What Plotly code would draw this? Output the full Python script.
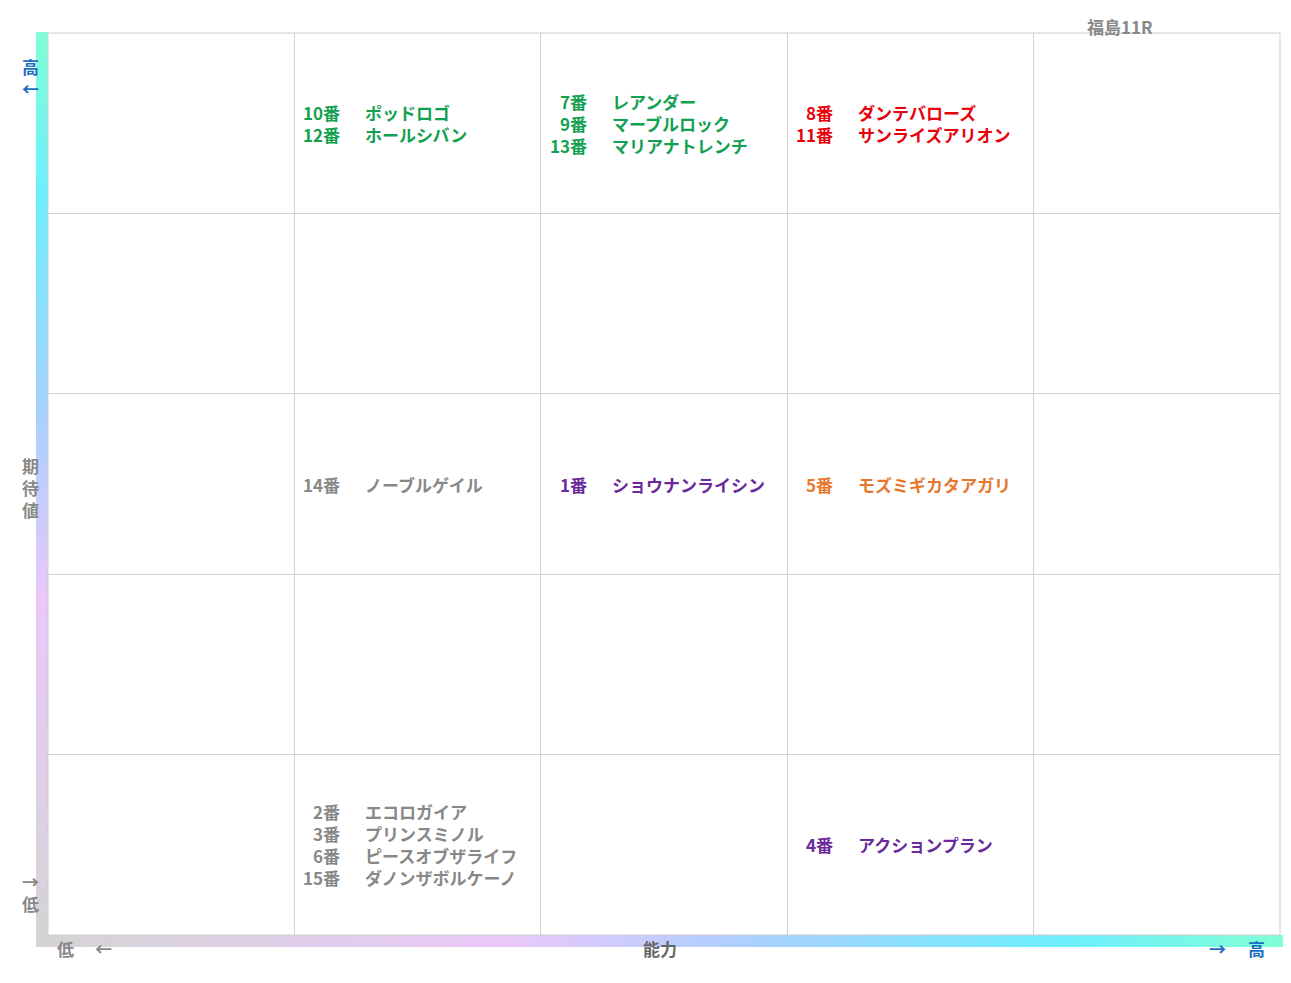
import plotly.graph_objects as go

# the page body adds an 8px margin, so the figure is sized to the visible area
W, H = 1283, 975
L, R, T, B = 40, 11, 25, 48
OFF = 8

# cell contents: column (0-4 left->right), row (0-4 bottom->top)
cell_cols = [1, 2, 3, 1, 2, 3, 1, 3]
cell_rows = [4, 4, 4, 2, 2, 2, 0, 0]
cell_colors = ['#12a150', '#12a150', '#e8000b', '#888888', '#6a2a9a', '#e8772e', '#888888', '#6a2a9a']
cell_nums = [
    ['10番', '12番'],
    ['7番', '9番', '13番'],
    ['8番', '11番'],
    ['14番'],
    ['1番'],
    ['5番'],
    ['2番', '3番', '6番', '15番'],
    ['4番'],
]
cell_names = [
    ['ポッドロゴ', 'ホールシバン'],
    ['レアンダー', 'マーブルロック', 'マリアナトレンチ'],
    ['ダンテバローズ', 'サンライズアリオン'],
    ['ノーブルゲイル'],
    ['ショウナンライシン'],
    ['モズミギカタアガリ'],
    ['エコロガイア', 'プリンスミノル', 'ピースオブザライフ', 'ダノンザボルケーノ'],
    ['アクションプラン'],
]
grad_stops = [(0, (212, 212, 212)), (0.38, (234, 200, 250)), (0.58, (168, 208, 255)),
              (0.82, (110, 238, 255)), (1, (128, 255, 214))]

FONT = 'Noto Sans CJK JP'


def grad(t):
    for (a, ca), (b, cb) in zip(grad_stops, grad_stops[1:]):
        if t <= b:
            f = (t - a) / (b - a)
            return 'rgb(%d,%d,%d)' % tuple(round(ca[i] + (cb[i] - ca[i]) * f) for i in range(3))
    return 'rgb(128,255,214)'


fig = go.Figure()
fig.add_trace(go.Scatter(x=[0, 5], y=[0, 5], mode='markers', marker=dict(opacity=0),
                         hoverinfo='skip', showlegend=False))

for c, r, col, nums, names in zip(cell_cols, cell_rows, cell_colors, cell_nums, cell_names):
    for items, xx, anchor in [(nums, c + 0.195, 'right'), (names, c + 0.28, 'left')]:
        txt = '<br>'.join('<b>%s</b>' % s for s in items)
        fig.add_annotation(x=xx, y=r + 0.5, text=txt, showarrow=False, xanchor=anchor,
                           align=anchor, font=dict(family=FONT, size=17, color=col))

# gradient axis bars (paper coords)
pw, ph = W - L - R, H - T - B
bx0, bx1 = -12 / pw, 0
by0, by1 = -12 / ph, 0
n = 80
shapes = []
for i in range(n):
    t0, t1 = i / n, (i + 1) / n
    c = grad((t0 + t1) / 2)
    shapes.append(dict(type='rect', xref='paper', yref='paper', x0=bx0, x1=bx1,
                       y0=by0 + (1 - by0) * t0, y1=by0 + (1 - by0) * t1 + 0.001,
                       fillcolor=c, line=dict(width=0), layer='below'))
    shapes.append(dict(type='rect', xref='paper', yref='paper', y0=by0, y1=by1,
                       x0=bx0 + (1 + 3 / pw - bx0) * t0, x1=bx0 + (1 + 3 / pw - bx0) * t1 + 0.001,
                       fillcolor=c, line=dict(width=0), layer='below'))
shapes.append(dict(type='rect', xref='paper', yref='paper', x0=0, x1=1, y0=0, y1=1,
                   line=dict(color='#cccccc', width=1), layer='below'))
fig.update_layout(shapes=shapes)

gray, blue = '#888888', '#1a6fc0'
labels = [
    ('福島11R', 1155, 12, gray), ('能力', 660, 963, '#666666'),
    ('期<br>待<br>値', 20, 487, gray), ('高<br>←', 20, 52, blue),
    ('→<br>低', 20, 918, gray), ('低', 55, 963, gray), ('←', 93, 963, gray),
    ('→', 1228, 963, blue), ('高', 1267, 963, blue),
]
for txt, px, py, col in labels:
    fig.add_annotation(x=(px - OFF - L) / pw, y=1 - (py - OFF - T) / ph, xref='paper', yref='paper',
                       text='<b>%s</b>' % txt, showarrow=False,
                       font=dict(family=FONT, size=17, color=col))

fig.update_xaxes(range=[0, 5], dtick=1, showticklabels=False, gridcolor='#d0d0d0',
                 zeroline=False, showline=False, fixedrange=True)
fig.update_yaxes(range=[0, 5], dtick=1, showticklabels=False, gridcolor='#d0d0d0',
                 zeroline=False, showline=False, fixedrange=True)
fig.update_layout(width=W, height=H, margin=dict(l=L, r=R, t=T, b=B),
                  plot_bgcolor='white', paper_bgcolor='white', font=dict(family=FONT))
fig.write_html("out.html")
